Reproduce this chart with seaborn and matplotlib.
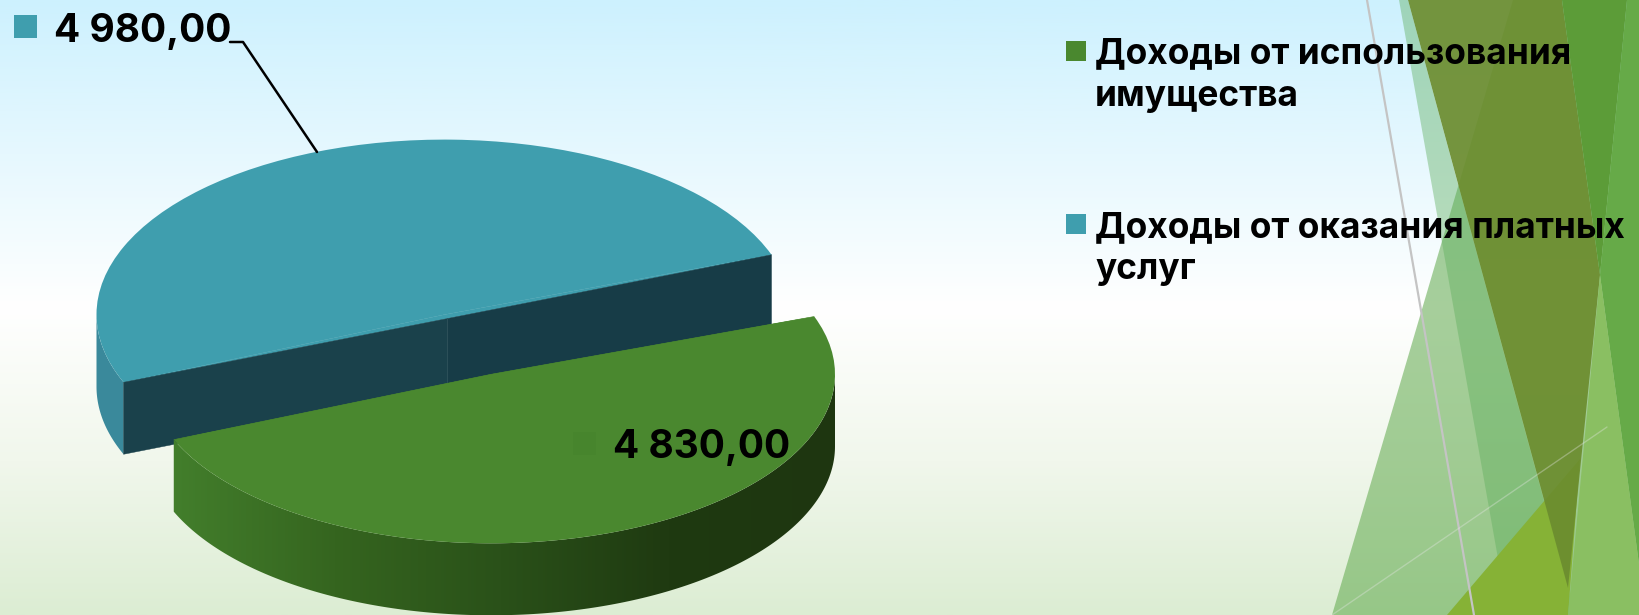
#!/usr/bin/env python3
import numpy as np
import matplotlib
matplotlib.use("Agg")
import matplotlib.pyplot as plt
from matplotlib.patches import Polygon, Rectangle
from matplotlib.transforms import Affine2D
import seaborn as sns

# data
categories = ["Доходы от оказания платных\nуслуг", "Доходы от использования\nимущества"]
values = [4980.0, 4830.0]
colors = ["#3f9eae", "#4a882f"]

W, H = 1639, 615
FONT = "Inter"

sns.set_theme(style="white")
plt.rcParams["font.family"] = [FONT, "DejaVu Sans"]

fig = plt.figure(figsize=(W / 100, H / 100), dpi=100)
ax = fig.add_axes([0, 0, 1, 1])
ax.set_axis_off()

# background
bg = sns.blend_palette(["#cdf1fe", "#e6f8fe", "#ffffff", "#f1f7ec", "#dcedd3"], as_cmap=True)
ax.imshow(np.linspace(0, 1, 256).reshape(-1, 1), cmap=bg, extent=(0, W, H, 0), aspect="auto", zorder=0)

# theme shapes on the right
def facet(pts, color, alpha=1.0):
    ax.add_patch(Polygon(pts, closed=True, facecolor=color, edgecolor="none", alpha=alpha, zorder=1))

facet([(1513, 0), (1639, 0), (1639, 615), (1332, 615)], "#5ea84a", 0.55)
facet([(1399, 0), (1408, 0), (1575, 615), (1508, 615)], "#5fae5c", 0.42)
facet([(1447, 615), (1580, 459), (1568, 615)], "#86b236")
facet([(1408, 0), (1562, 0), (1600, 275), (1568, 588)], "#6c8d2f", 0.93)
facet([(1562, 0), (1627, 0), (1600, 275)], "#5c9c38")
facet([(1627, 0), (1639, 0), (1639, 564), (1600, 275)], "#66aa48")
facet([(1600, 275), (1639, 564), (1639, 615), (1568, 615)], "#8abf62")
ax.plot([1367, 1474], [0, 615], color="#c4c4c4", lw=1.6, zorder=1)
ax.plot([1332, 1607], [615, 427], color="#e8e8e8", lw=1.0, alpha=0.35, zorder=1)

# pie tops, squeezed into ellipses afterwards
wedges = ax.pie(values, colors=colors, startangle=20, radius=1, center=(0, 0), frame=False,
                wedgeprops={"linewidth": 0})[0]
ax.set_aspect("auto")

blue_c = (444.5, 314.6)
blue_r = (348, 175)
green_c = (491.0, 374.3)
green_r = (344, 169)
depth = 72

def to_ellipse(w, c, r):
    w.set_transform(Affine2D().scale(r[0], -r[1]).translate(c[0], c[1]) + ax.transData)

def rim(t1, t2, c, r):
    th = np.radians(np.linspace(t1, t2, 200))
    x = c[0] + r[0] * np.cos(th)
    y = c[1] - r[1] * np.sin(th)
    top = np.column_stack([x, y])
    low = np.column_stack([x, y + depth])[::-1]
    return np.vstack([top, low])

def corner(t, c, r):
    return np.array([c[0] + r[0] * np.cos(np.radians(t)), c[1] - r[1] * np.sin(np.radians(t))])

to_ellipse(wedges[0], blue_c, blue_r)
to_ellipse(wedges[1], green_c, green_r)
wedges[0].set_zorder(4)
wedges[1].set_zorder(7)

# blue slice: straighten the cut, cut faces and the small outer side
t1, t2 = wedges[0].theta1, wedges[0].theta2
right, left = corner(t1, blue_c, blue_r), corner(t2, blue_c, blue_r)
ax.add_patch(Polygon([left, right, blue_c], facecolor=colors[0], edgecolor=colors[0], lw=0.4, zorder=4))
mid = (right + left) / 2
down = np.array([0, depth])
ax.add_patch(Polygon([right, mid, mid + down, right + down], facecolor="#173c47", edgecolor="#173c47", lw=0.3, zorder=5))
ax.add_patch(Polygon([mid, left, left + down, mid + down], facecolor="#1a414b", edgecolor="#1a414b", lw=0.3, zorder=5))
ax.add_patch(Polygon(rim(180, t2, blue_c, blue_r), facecolor="#3a899b", edgecolor="none", zorder=3))

# green slice: straighten the cut, outer side with horizontal shading
g_left = corner(wedges[1].theta1, green_c, green_r)
g_right = corner(wedges[1].theta2, green_c, green_r)
ax.add_patch(Polygon([g_left, g_right, green_c], facecolor=colors[1], edgecolor=colors[1], lw=0.4, zorder=7))
side = Polygon(rim(wedges[1].theta1, 360, green_c, green_r), facecolor="none", edgecolor="none",
               transform=ax.transData)
ax.add_patch(side)
shade = sns.blend_palette(["#437f2c", "#35651f", "#2a5119", "#1f3a11", "#1e3610"], as_cmap=True)
im = ax.imshow(np.linspace(0, 1, 256).reshape(1, -1), cmap=shade, extent=(168, 835, 620, 300),
               aspect="auto", zorder=6)
im.set_clip_path(side)

# value labels
def fmt(v):
    return f"{v:,.2f}".replace(",", " ").replace(".", ",")

ax.add_patch(Rectangle((14, 15), 23, 23, facecolor=colors[0], edgecolor="none", zorder=8))
ax.text(54, 42, fmt(values[0]), fontsize=28, fontweight="bold", color="black", va="baseline", zorder=9)
ax.plot([230, 243, 317], [42, 42, 152], color="black", lw=1.8, zorder=8)

ax.add_patch(Rectangle((573, 432), 23, 23, facecolor="#47852d", edgecolor="none", zorder=8))
ax.text(613, 458, fmt(values[1]), fontsize=28, fontweight="bold", color="black", va="baseline", zorder=9)

# legend
ax.add_patch(Rectangle((1066, 41), 20, 20, facecolor=colors[1], edgecolor="none", zorder=8))
ax.text(1095, 63, categories[1].split("\n")[0], fontsize=25.4, fontweight="bold", color="black", zorder=9)
ax.text(1095, 106, categories[1].split("\n")[1], fontsize=25.4, fontweight="bold", color="black", zorder=9)
ax.add_patch(Rectangle((1066, 214), 20, 20, facecolor=colors[0], edgecolor="none", zorder=8))
ax.text(1095, 237, categories[0].split("\n")[0], fontsize=25.4, fontweight="bold", color="black", zorder=9)
ax.text(1095, 279, categories[0].split("\n")[1], fontsize=25.4, fontweight="bold", color="black", zorder=9)

ax.set_xlim(0, W)
ax.set_ylim(H, 0)

plt.savefig("out.png", dpi=100)
plt.close()
